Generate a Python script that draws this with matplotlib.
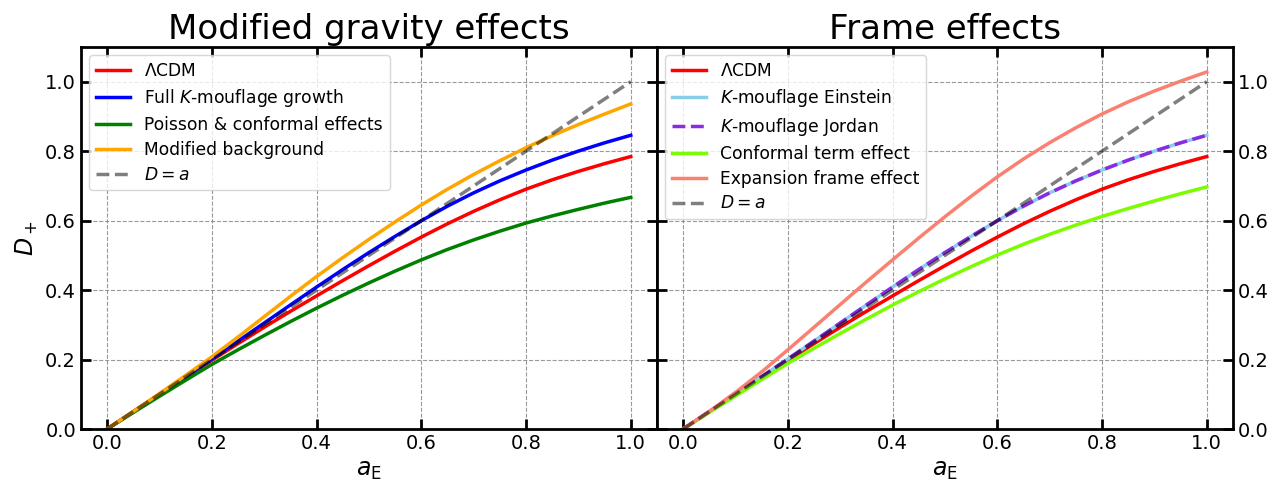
import matplotlib.pyplot as plt
import numpy as np

# scale factor grid (Einstein frame)
a_E = [0.00, 0.05, 0.10, 0.15, 0.20, 0.25, 0.30, 0.35, 0.40, 0.45, 0.50,
       0.55, 0.60, 0.65, 0.70, 0.75, 0.80, 0.85, 0.90, 0.95, 1.00]

# growth factors
lcdm = [0.0, 0.0500, 0.0998, 0.1492, 0.1980, 0.2460, 0.2930, 0.3388, 0.3833, 0.4274, 0.4704,
        0.5122, 0.5526, 0.5910, 0.6268, 0.6600, 0.6905, 0.7175, 0.7418, 0.7640, 0.7845]
kmouf_full = [0.0, 0.0500, 0.1002, 0.1507, 0.2017, 0.2532, 0.3052, 0.3572, 0.4087, 0.4592, 0.5080,
              0.5548, 0.5997, 0.6417, 0.6800, 0.7145, 0.7457, 0.7742, 0.8002, 0.8240, 0.8457]
poisson_conf = [0.0, 0.0475, 0.0943, 0.1405, 0.1860, 0.2282, 0.2693, 0.3093, 0.3480, 0.3852, 0.4207,
                0.4547, 0.4870, 0.5170, 0.5445, 0.5697, 0.5930, 0.6135, 0.6325, 0.6505, 0.6670]
mod_background = [0.0, 0.0505, 0.1020, 0.1545, 0.2080, 0.2650, 0.3235, 0.3820, 0.4390, 0.4935, 0.5460,
                  0.5965, 0.6450, 0.6905, 0.7330, 0.7725, 0.8100, 0.8445, 0.8767, 0.9069, 0.9360]

kmouf_einstein = [0.0, 0.0500, 0.1002, 0.1507, 0.2017, 0.2532, 0.3052, 0.3572, 0.4087, 0.4592, 0.5080,
                  0.5548, 0.5997, 0.6417, 0.6800, 0.7145, 0.7457, 0.7742, 0.8002, 0.8240, 0.8457]
kmouf_jordan = [0.0, 0.0500, 0.1002, 0.1507, 0.2017, 0.2532, 0.3052, 0.3572, 0.4087, 0.4592, 0.5080,
                0.5548, 0.5997, 0.6417, 0.6800, 0.7145, 0.7457, 0.7742, 0.8002, 0.8240, 0.8457]
conformal_term = [0.0, 0.0478, 0.0952, 0.1422, 0.1890, 0.2325, 0.2750, 0.3166, 0.3570, 0.3955, 0.4323,
                  0.4675, 0.5010, 0.5320, 0.5607, 0.5872, 0.6120, 0.6350, 0.6567, 0.6775, 0.6970]
expansion_frame = [0.0, 0.0510, 0.1055, 0.1645, 0.2280, 0.2930, 0.3585, 0.4235, 0.4870, 0.5500, 0.6112,
                   0.6702, 0.7260, 0.7775, 0.8245, 0.8675, 0.9070, 0.9420, 0.9732, 1.0015, 1.0280]

lw = 2.5

fig, (ax1, ax2) = plt.subplots(1, 2, figsize=(12.85, 4.84), dpi=100, sharey=True)
fig.subplots_adjust(left=0.063, right=0.9595, bottom=0.1136, top=0.903, wspace=0)

# left panel
ax1.plot(a_E, lcdm, color='red', lw=lw, label=r'$\Lambda$CDM')
ax1.plot(a_E, kmouf_full, color='blue', lw=lw, label=r'Full $K$-mouflage growth')
ax1.plot(a_E, poisson_conf, color='green', lw=lw, label='Poisson & conformal effects')
ax1.plot(a_E, mod_background, color='orange', lw=lw, label='Modified background')
ax1.plot(a_E, a_E, color='k', alpha=0.5, ls='--', lw=lw, label=r'$D=a$')

# right panel
ax2.plot(a_E, lcdm, color='red', lw=lw, label=r'$\Lambda$CDM')
ax2.plot(a_E, kmouf_einstein, color='skyblue', lw=lw, label=r'$K$-mouflage Einstein')
ax2.plot(a_E, kmouf_jordan, color='blueviolet', ls='--', lw=lw, label=r'$K$-mouflage Jordan')
ax2.plot(a_E, conformal_term, color='lawngreen', lw=lw, label='Conformal term effect')
ax2.plot(a_E, expansion_frame, color='salmon', lw=lw, label='Expansion frame effect')
ax2.plot(a_E, a_E, color='k', alpha=0.5, ls='--', lw=lw, label=r'$D=a$')

ax1.set_title('Modified gravity effects', fontsize=24.5)
ax2.set_title('Frame effects', fontsize=24.5)
ax1.set_ylabel(r'$D_+$', fontsize=17)

for ax in (ax1, ax2):
    ax.set_xlabel(r'$a_\mathrm{E}$', fontsize=17)
    ax.set_ylim(0, 1.1)
    ax.set_xticks([0.0, 0.2, 0.4, 0.6, 0.8, 1.0])
    ax.set_yticks([0.0, 0.2, 0.4, 0.6, 0.8, 1.0])
    ax.grid(True, ls='--', color='gray', alpha=0.8, lw=0.8)
    ax.tick_params(direction='in', length=7, width=2, labelsize=14,
                   top=True, right=True, left=True, bottom=True)
    for s in ax.spines.values():
        s.set_linewidth(2)
    ax.legend(loc='upper left', fontsize=12.3, labelspacing=0.4)

ax1.tick_params(labelleft=True)
ax2.tick_params(labelleft=False, labelright=True)

fig.savefig('out.png')
